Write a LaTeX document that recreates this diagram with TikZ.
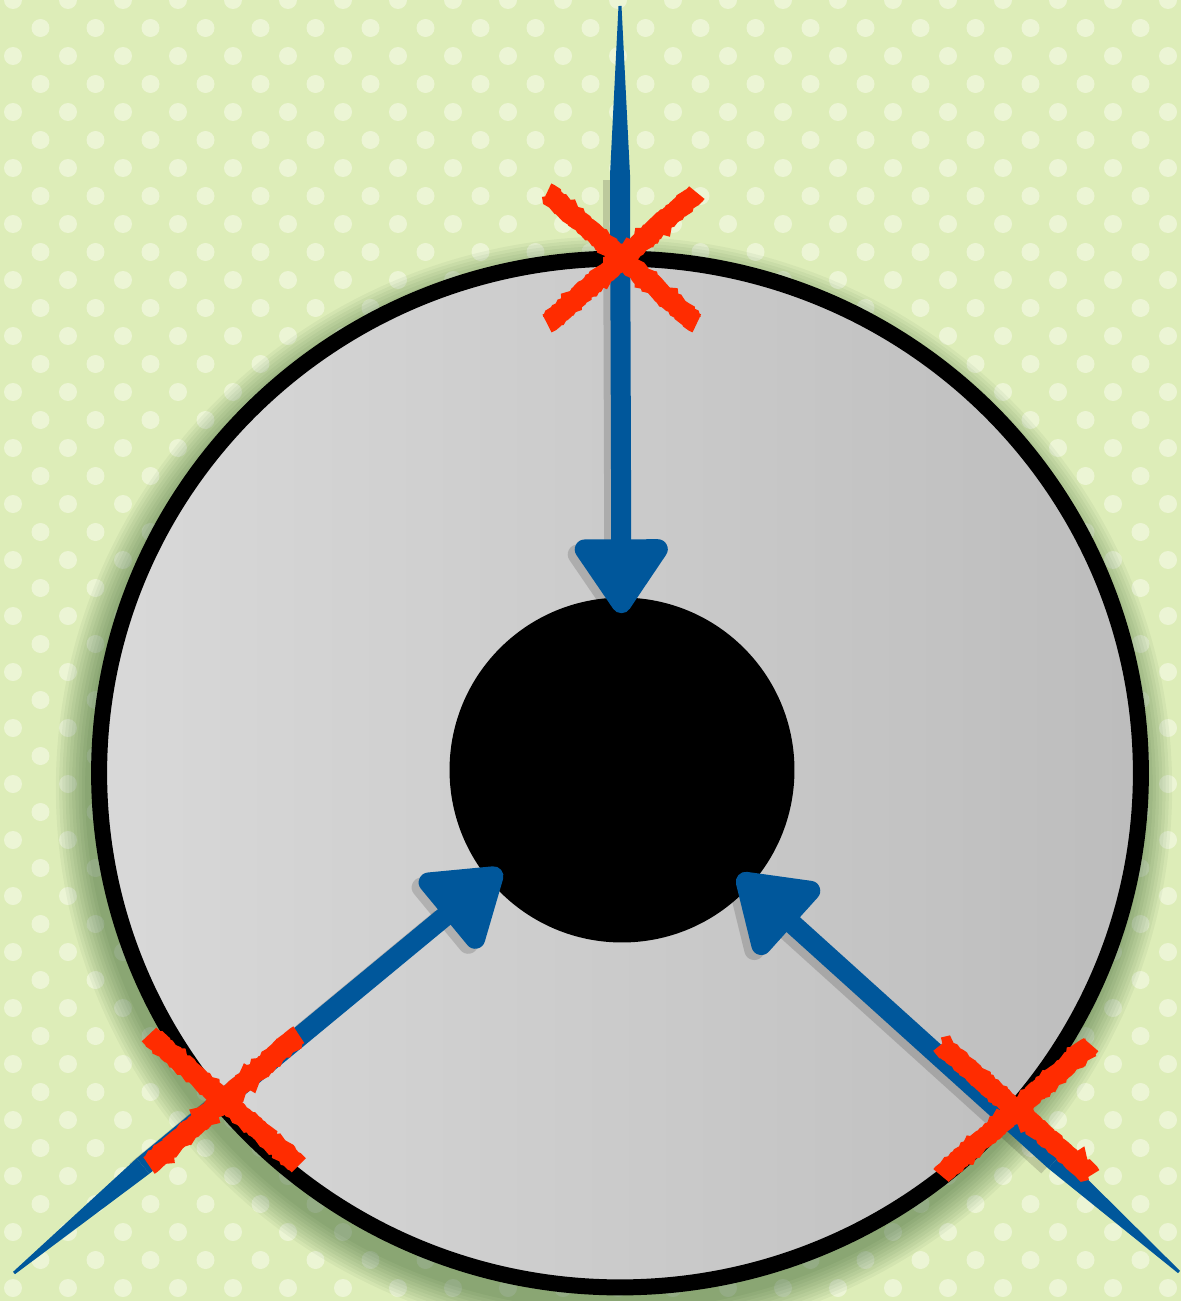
\documentclass[tikz,border=0pt]{standalone}
\usepackage{xcolor}
\usepackage{tikz}
\usetikzlibrary{shapes.geometric, shapes.misc, arrows.meta, positioning, calc, decorations.pathmorphing}

\definecolor{bgGreen}{HTML}{DDEDB8}
\definecolor{dotWhite}{HTML}{F2F8E0}
\definecolor{arrowBlue}{HTML}{00579B}
\definecolor{crossRed}{HTML}{FF2C00}

\begin{document}
\begin{tikzpicture}[x=0.02cm, y=-0.02cm,
    ring/.style={ellipse, draw=black, line width=0.32cm, minimum width=20.84cm, minimum height=20.58cm, inner sep=0pt, left color=black!15, right color=black!26},
    core/.style={circle, fill=black, minimum size=6.9cm, inner sep=0pt},
    arrow/.style={draw=arrowBlue, line width=0.4cm, -{Triangle[length=1.65cm, width=2.1cm, round]}, shorten >=-0.32cm},
    tail/.style={fill=arrowBlue},
    crossmark/.style={cross out, draw=crossRed, line width=0.4cm, minimum width=2.6cm, minimum height=2.22cm, inner sep=0pt,
        decorate, decoration={random steps, segment length=1.5pt, amplitude=0.7pt}},
    dot/.style={fill=dotWhite, opacity=0.75}
]
    % Background
    \clip (0,0) rectangle (1181,1301);
    \fill[bgGreen] (0,0) rectangle (1181,1301);
    \foreach \j in {0,...,47}
        \foreach \i in {0,...,21}
            \fill[dot] ({13+55*\i+27.5*mod(\j,2)},{28*\j}) circle (0.18cm);

    % Shadow of the disc
    \foreach \k in {0,...,9}
        \fill[black!80!green, opacity=0.045] (614,788) ellipse [x radius={(10.58+0.065*\k)*1cm}, y radius={(10.45+0.065*\k)*1cm}];

    % Disc and hole
    \node[ring] (ring) at (620,773) {};
    \node[core] (core) at (622,770) {};

    % Entry points
    \coordinate (ttop) at (620,6);
    \coordinate (ptop) at (620,175);
    \coordinate (tleft) at (14,1273);
    \coordinate (pleft) at (143,1166);
    \coordinate (tright) at (1179,1272);
    \coordinate (pright) at (1055,1161);

    % Arrow shadows
    \foreach \p in {top,left,right}
        \draw[arrow, draw=black, opacity=0.15, transform canvas={xshift=-0.14cm, yshift=-0.1cm}] (p\p) -- (core);

    % Arrows
    \foreach \p in {top,left,right} {
        \fill[tail] ($(t\p)!0.03cm!90:(core)$) -- ($(p\p)!0.2cm!90:(core)$) -- ($(p\p)!0.2cm!-90:(core)$) -- ($(t\p)!0.03cm!-90:(core)$) -- cycle;
        \draw[arrow] (p\p) -- (core);
    }

    % Crosses
    \node[crossmark] (xtop) at (622,258) {};
    \node[crossmark] (xleft) at (224,1100) {};
    \node[crossmark] (xright) at (1016,1110) {};
\end{tikzpicture}
\end{document}
